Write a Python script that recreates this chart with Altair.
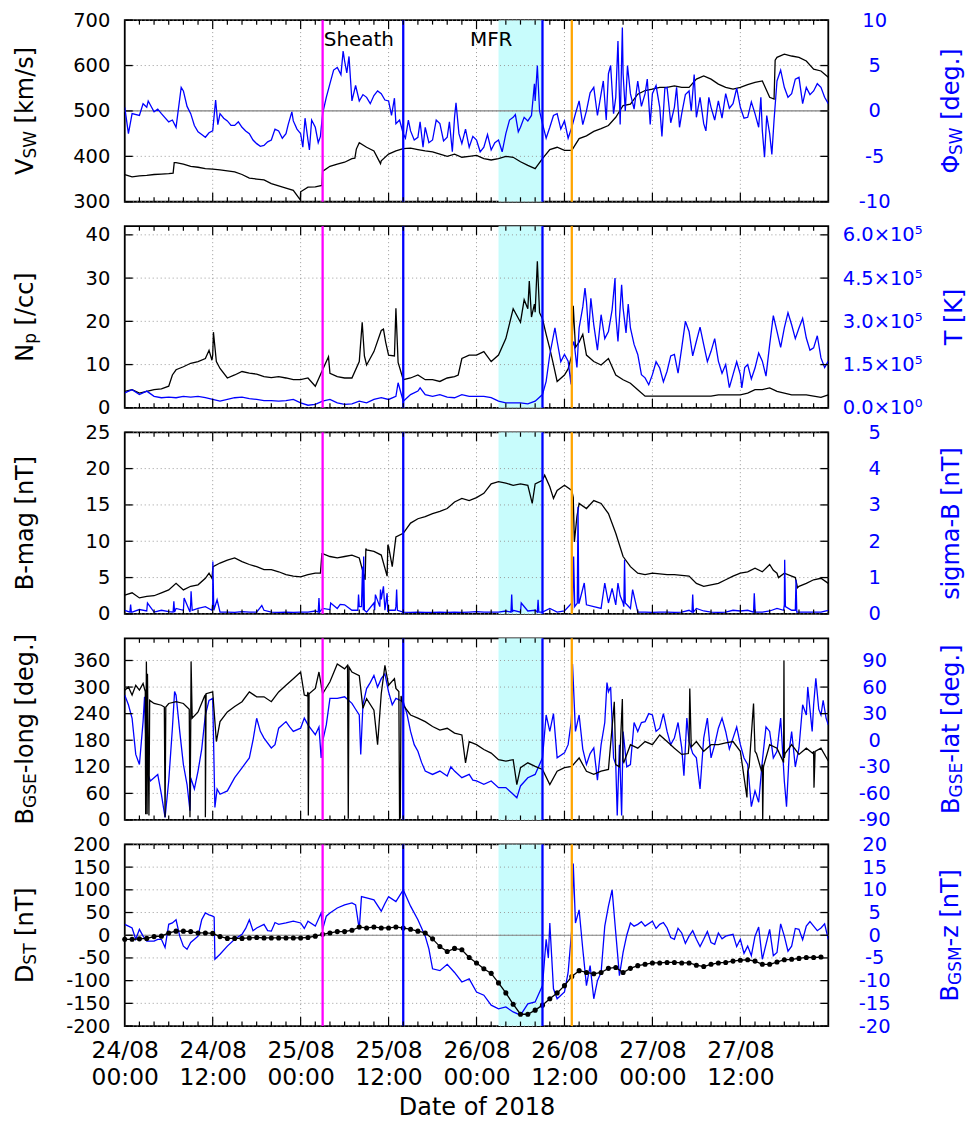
import altair as alt
import pandas as pd

# ---------------- data (hours since 2018-08-24 00:00) ----------------
VSW = [360,355,357,358,360,361,362,386,383,378, 376,373,372,370,368,366,360,352,350,348,
       340,335,330,325,322,332,333,370,378,383, 387,395,430,420,412,390,405,412,417,418,
       415,412,410,405,400,405,398,400,402,395, 392,395,400,398,388,380,373,395,415,420,
       413,413,439,445,455,461,468,486,512,515, 537,545,548,552,552,555,552,552,570,577,
       570,559,552,548,552,558,563,566,530,618, 625,621,618,610,592,588,574]
VSW_X = [(6.6,363),(6.75,386),(23.95,304),(26.9,336),(27.1,368),(31.4,396),(31.6,416),(34.9,384),(88.6,526),(88.75,612)]

PHI = [0.4,-0.3,-0.5,0.4,-0.1,-0.3,-1.2,-1.8,2.2,-0.3, -2.3,-2.9,-2.2,-0.3,-1.1,-1.6,-1.8,-2.5,-3.6,-3.8,
       -3.2,-2.2,-2.5,-1.1,-2.5,-3.2,-1.8,-0.3,3.0,4.8, 5.5,1.1,1.1,1.5,1.7,1.9,1.1,-1.4,-2.5,-2.2,
       -2.9,-1.8,-3.2,-1.4,-2.9,-0.7,-3.6,-4.0,-3.2,-4.0, -4.3,-3.2,-2.5,-0.7,-1.8,-1.1,1.1,-1.4,-1.8,-0.3,
       -1.1,-1.8,1.1,0.0,2.6,1.9,4.1,1.5,4.1,1.9, 3.3,1.9,1.9,0.4,2.6,0.4,-0.3,2.2,-0.7,-1.4,
       0.4,1.1,1.9,0.8,0.4,-0.7,-0.3,-2.2,-2.5,3.3, 2.6,1.9,3.7,2.6,2.2,2.6,0.8]
PHI_X = [(0.5,-2.5),(2.5,0.8),(3.2,1.1),(4.5,0.2),(6.5,-1.0),(7.7,2.6),(8.5,0.5),(9.5,-1.6),(10.5,-2.6),(11.5,-2.4),
         (12.4,1.2),(12.7,-1.5),(13.5,-0.8),(14.5,-1.6),(15.5,-1.2),(16.5,-2.2),(17.5,-3.2),(18.5,-3.9),(19.5,-3.4),
         (20.5,-2.0),(21.5,-3.0),(22.3,-1.5),(22.8,-0.1),(23.5,-2.0),(24.3,-4.0),(24.6,-0.8),(25.2,-4.3),(25.5,-1.0),
         (26.4,-3.5),(26.7,-2.8),(27.5,1.5),(28.5,4.5),(29.5,4.0),(29.8,6.6),(30.3,4.2),(30.6,6.0),(31.5,2.8),(32.5,1.8),
         (33.5,0.8),(34.5,2.2),(35.5,1.2),(36.4,-0.5),(36.8,1.4),(37.5,-1.0),(38.3,-3.0),(38.7,-1.0),(39.5,-3.2),
         (40.3,-1.2),(40.7,-4.0),(41.5,-3.5),(42.5,-1.0),(43.5,-3.3),(44.3,-1.2),(44.7,-4.5),(45.2,0.9),(45.6,-2.5),
         (46.5,-2.0),(47.5,-2.8),(48.5,-4.5),(49.5,-2.6),(50.5,-3.5),(51.5,-4.5),(52.5,-1.0),(53.3,-0.4),(53.7,-2.3),
         (54.5,-0.7),(55.5,-0.5),(55.9,3.0),(56.3,5.0),(56.6,0.0),(57.5,-3.0),(58.5,-0.5),(59.5,-2.0),(60.5,-3.0),
         (61.5,-0.3),(62.5,-1.5),(63.5,2.0),(64.5,-0.5),(65.3,3.3),(65.7,-1.0),(66.3,5.0),(66.7,-0.3),(67.3,7.7),
         (67.6,-1.5),(67.9,9.2),(68.3,0.0),(68.6,5.0),(69.5,0.2),(70.5,0.5),(71.3,3.5),(71.7,-1.5),(72.5,2.8),
         (73.3,-2.8),(73.7,2.5),(74.5,-1.3),(75.3,2.6),(75.7,-1.8),(76.5,1.8),(77.3,0.0),(77.7,4.0),(78.5,1.5),
         (79.3,-2.2),(79.7,1.5),(80.5,-1.0),(81.5,-0.8),(82.5,0.3),(83.5,2.5),(84.5,-0.8),(85.5,1.0),(86.5,-1.8),
         (86.8,1.5),(87.3,-5.1),(87.6,-0.5),(88.3,-4.8),(88.6,-1.0),(89.5,4.5),(90.5,1.5),(91.5,3.5),(92.5,0.8),
         (93.5,1.8),(94.5,3.0),(95.5,1.5)]

NP = [3.8,4.2,3.4,3.8,4.2,4.4,5.0,8.8,9.5,10.3, 10.7,11.4,12.2,9.1,6.9,7.6,8.4,8.0,7.8,7.2,
      7.0,7.2,6.9,6.5,6.5,6.9,5.0,8.8,8.0,7.2, 6.9,6.9,10.7,9.9,13.0,17.9,12.2,23.0,6.5,6.9,
      7.6,6.5,6.5,6.1,6.9,7.2,11.4,12.2,12.2,13.0, 10.7,12.2,16.0,22.9,19.8,22.9,22.1,20.6,13.7,6.1,
      7.6,12.2,15.2,12.2,10.7,9.9,11.4,7.6,6.5,5.7, 4.2,2.7,2.7,2.7,2.7,2.7,2.7,2.7,2.7,2.7,
      2.7,3.0,3.0,3.0,3.0,3.4,4.2,4.2,4.6,3.8, 3.4,3.0,3.0,3.0,2.7,2.4,3.0]
NP_X = [(6.5,7.6),(11.5,13.3),(11.9,11.0),(12.1,17.5),(12.5,10.7),(27.8,11.8),(32.4,19.8),(32.7,12.0),(35.3,18.2),
        (35.6,15.2),(36.8,12.0),(37.3,10.5),(45.5,7.6),(54.5,25.0),(55.2,29.3),(55.5,21.0),(55.9,24.0),(56.3,33.9),
        (56.6,22.0),(57.5,17.0),(58.5,10.0),(60.5,9.0),(61.2,23.6),(61.5,14.0),(62.5,17.0)]

TEMP = [0.52,0.63,0.46,0.58,0.40,0.35,0.37,0.35,0.40,0.37, 0.40,0.35,0.29,0.23,0.29,0.35,0.37,0.32,0.29,0.25,
        0.25,0.23,0.25,0.29,0.17,0.09,0.12,0.23,0.29,0.17, 0.12,0.14,0.23,0.17,0.29,0.35,0.29,0.40,0.23,0.46,
        0.58,0.46,0.40,0.46,0.37,0.35,0.46,0.40,0.40,0.40, 0.35,0.23,0.17,0.17,0.17,0.14,0.23,0.46,1.85,2.31,
        1.85,2.08,2.77,3.69,2.88,3.23,2.65,3.23,3.46,2.77, 1.85,1.04,1.15,1.38,1.27,1.85,2.08,2.65,2.31,2.19,
        1.96,1.62,1.50,1.15,1.15,1.50,1.38,1.62,2.19,2.65, 2.77,2.88,2.77,2.42,2.08,1.73,1.62]
TEMP_X = [(37.3,0.87),(40.3,0.69),(57.5,0.92),(58.7,2.77),(59.5,1.6),(60.5,1.62),(60.9,0.81),(61.3,2.3),(61.7,1.4),
          (62.5,3.5),(62.8,4.15),(63.3,2.6),(63.6,3.8),(64.5,2.0),(65.5,2.4),(66.5,3.4),(66.9,4.5),(67.3,2.3),
          (67.8,4.27),(68.4,2.6),(68.7,3.6),(69.5,2.2),(70.5,1.15),(71.5,0.8),(72.5,1.6),(73.5,0.9),(74.5,1.8),
          (75.5,1.2),(76.5,3.0),(77.5,1.8),(78.5,2.8),(79.5,1.6),(80.5,2.4),(81.5,1.2),(82.5,0.7),(83.5,1.6),
          (84.2,0.69),(84.6,1.4),(85.5,1.0),(86.5,1.9),(87.5,1.1),(88.5,3.2),(89.5,2.1),(90.5,3.3),(91.5,2.4),
          (92.5,3.1),(93.5,2.0),(94.5,2.5),(95.5,1.4)]

BMAG = [2.6,2.9,2.2,2.4,2.5,2.9,3.3,4.2,3.3,3.8, 4.0,4.9,6.1,7.0,7.4,7.7,7.2,6.8,6.5,6.1,
        6.1,5.8,5.4,5.2,5.1,5.4,5.6,8.3,7.9,7.7, 7.9,8.1,7.7,8.8,8.6,8.1,9.3,10.6,11.1,12.5,
        13.1,13.4,13.8,14.1,14.5,15.4,15.9,15.6,16.0,16.6, 17.9,18.2,18.0,17.7,17.9,17.7,17.9,18.4,17.5,17.0,
        17.7,17.0,15.2,14.5,15.6,15.2,13.8,11.1,7.9,6.5, 5.6,5.4,5.6,5.5,5.4,5.4,5.3,5.2,4.2,3.8,
        4.0,4.2,4.7,5.2,5.6,5.8,6.3,5.8,6.8,5.6, 5.6,5.2,3.8,4.2,4.7,4.9,4.2]
BMAG_X = [(11.5,5.6),(11.9,4.9),(12.05,6.5),(26.7,5.6),(26.9,8.3),(32.8,4.7),(32.9,9.0),(35.8,5.2),(35.9,9.5),
          (36.5,6.5),(55.6,15.2),(57.3,19.1),(58.5,15.9),(61.2,16.0),(61.35,9.9),(61.7,13.4),(88.5,6.0),(89.2,5.0),
          (91.5,5.0),(91.8,3.6)]

SIGB = [0.1,0.05,0.12,0.08,0.05,0.1,0.06,0.15,0.1,0.3, 0.15,0.2,0.3,0.05,0.05,0.04,0.06,0.05,0.05,0.1,
        0.05,0.04,0.05,0.04,0.05,0.05,0.08,0.15,0.12,0.15, 0.25,0.1,0.2,0.05,0.3,0.4,0.1,0.2,0.05,0.04,
        0.05,0.04,0.04,0.05,0.04,0.05,0.04,0.05,0.06,0.05, 0.05,0.05,0.08,0.1,0.05,0.08,0.1,0.05,0.15,0.05,
        0.08,0.3,0.3,0.25,0.2,0.15,0.3,0.25,0.3,0.15, 0.05,0.05,0.04,0.05,0.05,0.04,0.05,0.1,0.15,0.08,
        0.05,0.04,0.05,0.1,0.08,0.1,0.15,0.05,0.08,0.15, 0.25,0.1,0.05,0.05,0.05,0.05,0.1]
SIGB_X = [(0.7,0.05),(0.8,0.26),(0.9,0.05),(3.1,0.3),(6.6,0.05),(6.7,0.35),(6.8,0.05),(8.1,0.44),(8.9,0.05),
          (9.05,0.62),(9.2,0.1),(11.9,0.1),(12.02,1.44),(12.15,0.1),(12.6,0.39),(18.7,0.23),(26.4,0.05),(26.5,0.44),
          (26.6,0.05),(28.1,0.3),(29.4,0.26),(31.8,0.1),(31.9,0.53),(32.3,0.2),(32.45,1.3),(32.55,0.1),(32.6,1.58),
          (32.7,0.1),(34.1,0.1),(34.2,0.53),(34.8,0.2),(34.9,0.67),(35.3,0.76),(35.5,0.1),(35.8,0.57),(35.9,0.05),
          (36.9,0.1),(37.1,0.67),(37.2,0.1),(52.7,0.05),(52.8,0.53),(52.9,0.05),(54.1,0.3),(56.3,0.05),(56.4,0.39),
          (56.5,0.05),(61.1,0.1),(61.25,1.58),(61.4,0.2),(61.75,0.3),(61.85,2.95),(61.95,0.3),(62.7,0.85),(65.5,0.85),
          (66.5,0.7),(67.3,0.85),(67.6,0.5),(68.1,0.2),(68.2,1.49),(68.3,0.3),(69.3,0.67),(77.4,0.05),(77.5,0.53),
          (77.6,0.05),(85.8,0.05),(85.9,0.57),(86.0,0.05),(89.9,0.1),(90.05,1.49),(90.15,0.2),(91.5,0.1),(91.6,0.94),
          (91.7,0.05)]

LONG = [293,282,293,282,263,259,263,267,263,207, 244,282,289,222,244,256,267,289,278,278,
        267,289,304,319,334,289,297,285,312,352, 341,334,326,274,248,285,304,297,259,237,
        230,222,211,203,207,196,192,177,170,159, 151,136,133,136,118,129,121,114,80,110,
        118,121,140,110,103,110,114,125,133,170, 162,177,170,192,177,162,148,170,177,155,
        170,170,174,177,155,110,155,125,170,162, 140,170,148,162,155,162,133]
LONG_X = [(0.5,300),(1.5,304),(2.5,308),(2.8,290),(2.85,13),(2.95,358),(3.05,13),(3.1,330),(3.3,10),(3.4,270),
          (5.4,255),(5.5,6),(5.6,255),(8.8,250),(8.9,6),(9.05,358),(9.2,230),(10.9,280),(11.0,6),(11.1,285),
          (12.5,177),(24.5,282),(24.9,280),(25.05,10),(25.15,285),(26.5,334),(30.4,349),(30.5,3),(30.6,345),
          (32.5,252),(34.5,170),(35.5,349),(36.8,319),(37.4,290),(37.5,2),(37.6,5),(37.7,280),(46.5,129),(53.5,80),
          (66.8,267),(67.5,120),(67.9,273),(68.1,130),(76.9,150),(77.1,297),(77.3,165),(84.9,51),(85.2,120),
          (85.8,263),(86.2,150),(86.9,110),(87.05,0),(87.15,120),(89.9,130),(89.95,360),(90.1,150),(93.9,150),
          (94.05,73),(94.2,155)]

LAT = [50.9,24.8,-27.4,-34.8,-42.3,-61,-46,50.9,-27.4,-42.3, -34.8,28.5,47.2,-61,-57.2,-42.3,-31.1,-19.9,24.8,2.4,
       -8.7,13.6,21,9.9,13.6,17.3,6.2,-1.3,47.2,47.2, 49,41.6,28.5,58.3,73.2,69.5,54.6,47.2,43.4,9.9,
       -12.5,-34.8,-38.6,-34.8,-40.4,-34.8,-42.3,-38.6,-46,-49.7, -46,-53.5,-53.5,-61,-51.6,-42.3,-38.6,-19.9,9.9,-19.9,
       -14.3,32.3,28.5,-27.4,-8.7,-5,54.6,-27.4,9.9,-27.4, 9.9,21,28.5,13.6,9.9,2.4,-8.7,-1.3,-19.9,2.4,
       -19.9,13.6,9.9,2.4,-5,-27.4,-57.2,-23.6,9.9,-12.5, -46,9.9,-8.7,28.5,39.7,28.5,17.3]
LAT_X = [(0.5,40),(1.5,-16),(2.5,21),(2.7,49),(3.5,-46),(4.5,-38.6),(5.5,-87),(6.5,13.6),(6.8,55),(7.5,10),(8.5,-50),
         (8.9,-79.6),(9.5,-55),(10.5,-10),(11.5,45),(12.3,-75.8),(12.6,-55),(17.5,0),(18.5,10),(20.5,-5),(22.5,15),
         (24.5,25),(26.5,15),(26.8,-20),(27.5,17.3),(31.5,35),(32.2,-16),(32.5,40),(33.5,65),(34.5,60),(35.5,75),
         (36.5,40),(38.5,30),(39.5,-5),(40.5,-25),(44.5,-30),(47.5,-45),(53.5,-65),(57.5,28.5),(58.5,30),(60.5,-5),
         (60.9,20),(61.1,86),(61.5,10),(62.5,-10),(63.5,-15),(64.5,-45),(65.5,20),(65.8,65),(66.3,60),(66.7,-20),
         (67.2,-85),(67.5,-5),(67.8,-85),(68.5,-30),(69.5,20),(70.5,20),(71.5,30),(72.5,10),(73.5,30),(74.5,-5),
         (75.5,20),(76.3,-40),(76.7,25),(77.5,-15),(78.5,-55),(79.5,25),(80.5,-5),(81.5,25),(82.5,-10),(83.5,15),
         (84.5,-20),(85.5,-75),(86.5,-70),(87.5,15),(88.5,-20),(89.5,25),(90.3,-75),(90.7,-10),(91.5,-30),(92.5,40),
         (93.2,60),(93.8,10),(94.3,70),(94.7,35),(95.3,45),(95.7,25)]

DST = [-9,-9,-8,-7,-3,-2,5,9,9,8, 5,5,4,-3,-7,-7,-7,-6,-5,-6,
       -6,-6,-6,-6,-6,-5,-2,2,5,8, 8,11,18,16,18,16,16,18,16,13,
       9,5,-8,-25,-36,-29,-32,-49,-61,-74, -84,-105,-127,-152,-174,-174,-165,-154,-140,-127,
       -111,-91,-78,-82,-85,-82,-73,-71,-82,-73, -67,-64,-61,-61,-60,-60,-61,-61,-66,-69,
       -64,-61,-60,-57,-55,-54,-57,-64,-64,-59, -54,-53,-51,-49,-49,-48]

BZ = [2.4,1.6,1.3,-1.3,-1.3,-0.9,2.4,3.4,-2.4,-1.6, -0.2,4.9,4.2,-4.2,-2.4,-0.9,0.2,3.4,1.6,2.4,
      0.9,2.4,2.7,3.1,2.7,3.1,2.0,1.3,4.9,6.0, 6.7,7.1,1.3,8.2,7.8,5.3,8.5,7.4,10.0,6.4,
      3.4,-0.2,-7.4,-7.8,-6.4,-8.2,-10.3,-9.6,-12.5,-13.2, -15.4,-16.2,-15.8,-16.9,-17.6,-15.1,-14.7,-11.1,2.7,-14.0,
      -12.5,1.3,5.6,-11.1,-14.0,-8.2,6.4,0.5,-3.8,2.7, 2.4,2.0,3.1,2.4,1.6,-0.9,0.5,-0.2,-0.9,-0.9,
      -1.6,0.5,-0.2,0.2,-0.9,-2.4,-0.2,-5.3,1.3,-3.8, -0.2,-2.4,1.3,2.0,2.0,1.6,-0.9]
BZ_X = [(0.5,2.0),(1.5,-0.9),(2.5,-0.2),(4.5,-0.9),(5.5,-2.7),(6.5,2.7),(7.5,-0.2),(8.5,-3.1),(10.5,3.4),(11.5,4.5),
        (12.2,4.0),(12.3,-5.3),(16.5,1.5),(17.5,1.0),(19.5,1.0),(20.5,2.8),(24.5,1.5),(26.8,4.9),(27.5,4.2),(31.5,6.7),
        (32.3,8.5),(35.5,7.0),(38.5,8.2),(41.5,-3.0),(57.5,-0.9),(57.8,-5.0),(58.5,-11.8),(60.5,-8.2),(61.2,15.8),
        (61.5,2.7),(62.5,-3.1),(63.5,-6.7),(64.5,-10.0),(65.5,2.0),(66.5,10.0),(67.5,-8.9),(68.5,0.0),(69.5,2.0),
        (70.5,3.0),(72.5,1.5),(73.5,2.8),(74.5,-0.5),(75.5,1.5),(76.5,-1.8),(77.5,1.0),(78.5,-2.5),(79.5,0.8),
        (80.5,-2.0),(81.5,-0.8),(83.5,-2.5),(84.5,-4.0),(85.5,-4.5),(86.5,1.8),(87.5,-2.0),(88.5,-4.5),(89.5,2.5),
        (90.5,-3.5),(91.5,1.5),(92.5,-1.0),(93.5,3.0),(94.5,1.0),(95.5,2.5)]

EVENT_HOURS = [27, 38, 57, 61]
EVENT_COLORS = ['#ff00ff', '#0000ff', '#0000ff', '#ffa500']
MFR_SPAN = [51, 57]
NOTE_TEXT = ['Sheath', 'MFR']
NOTE_HOUR = [27.15, 47.1]
MAJOR_HOURS = [12, 24, 36, 48, 60, 72, 84]
MINOR_HOURS = [h for h in range(2, 96, 2) if h % 12]
X_LABEL_HOURS = [0, 12, 24, 36, 48, 60, 72, 84]

# ---------------- style ----------------
W, H = 705, 182
FONT = 'DejaVu Sans'
BLUE = '#0000ff'
CYAN = '#c8fcfc'
GRID = '#9a9a9a'
TICK_FS = 19.5
MAIN_FS, SUB_FS, SUB_SHIFT = 24, 17, 3
LW = 1.3

CW = {' ': .318, '[': .390, ']': .390, '/': .337, '.': .318, '-': .361, 'a': .613, 'b': .635, 'c': .550,
      'd': .635, 'e': .615, 'g': .635, 'i': .278, 'k': .579, 'l': .278, 'm': .974, 'n': .634, 'o': .612,
      'p': .635, 'r': .411, 's': .521, 't': .392, 'z': .525, 'B': .686, 'D': .770, 'E': .632, 'G': .775,
      'K': .656, 'M': .863, 'N': .748, 'S': .635, 'T': .611, 'V': .684, 'W': .989, 'Φ': .78}

XS = alt.Scale(domain=[0, 96], nice=False, zero=False)
X_AXIS = alt.Axis(values=X_LABEL_HOURS, ticks=False, tickSize=0, domain=False, grid=False,
                  labelExpr="[(24 + floor(datum.value / 24)) + '/08', datum.value % 24 == 0 ? '00:00' : '12:00']",
                  labelFontSize=23.4, labelFont=FONT, labelColor='black', labelPadding=14,
                  labelLineHeight=27, labelFlush=False, labelOverlap=False,
                  title='Date of 2018', titleFontSize=24, titleFont=FONT, titleFontWeight='normal',
                  titleColor='black', titlePadding=6)
ONE = pd.DataFrame({'a': [0]})


def xenc(with_axis):
    return alt.X('h:Q', scale=XS, axis=X_AXIS if with_axis else None)


def series(hourly, extras=()):
    t = list(range(len(hourly))) + [e[0] for e in extras]
    v = list(hourly) + [e[1] for e in extras]
    return pd.DataFrame({'h': t, 'v': v}).sort_values('h', kind='stable').reset_index(drop=True)


def child(df, color, domain, ticks, orient, grid=False, zero=None, label_expr="'' + datum.value",
          label_align=None, label_pad=15, points=False, xaxis=False):
    X = xenc(xaxis)
    ysc = alt.Scale(domain=domain, nice=False, zero=False)
    akw = dict(orient=orient, values=ticks, ticks=False, tickSize=0, domain=False, grid=False, title=None,
               labelExpr=label_expr, labelPadding=label_pad, labelFontSize=TICK_FS, labelFont=FONT,
               labelColor=color, labelFlush=False, labelOverlap=False)
    if label_align:
        akw['labelAlign'] = label_align
    Y = alt.Y('v:Q', scale=ysc, axis=alt.Axis(**akw))
    tdf = pd.DataFrame({'v': ticks})
    layers = []
    if grid:
        layers.append(alt.Chart(tdf).mark_rule(color=GRID, strokeDash=[1, 3], strokeWidth=1).encode(
            y=Y, x=alt.value(0), x2=alt.value(W)))
    if zero is not None:
        layers.append(alt.Chart(pd.DataFrame({'v': [zero]})).mark_rule(color='#808080', strokeWidth=1.2).encode(
            y=Y, x=alt.value(0), x2=alt.value(W)))
    layers.append(alt.Chart(df).mark_line(color=color, strokeWidth=LW, clip=True).encode(x=X, y=Y))
    if points:
        layers.append(alt.Chart(df).mark_circle(color=color, size=26, opacity=1).encode(x=X, y=Y))
    x0, x1 = (0, 8) if orient == 'left' else (W - 8, W)
    layers.append(alt.Chart(tdf).mark_rule(color='black', strokeWidth=1.3).encode(
        y=Y, x=alt.value(x0), x2=alt.value(x1)))
    return alt.layer(*layers)


def title_marks(pieces, base_x, color):
    items = []
    for text, sub in pieces:
        fs = SUB_FS if sub else MAIN_FS
        lead = 0.0
        if text.startswith(' '):
            lead = CW[' '] * fs
            text = text.lstrip(' ')
        items.append((text, fs, sub, lead, sum(CW.get(c, .6) for c in text) * fs))
    total = sum(i[3] + i[4] for i in items)
    y = H / 2 + total / 2
    out = []
    for text, fs, sub, lead, w in items:
        y -= lead
        out.append(alt.Chart(ONE).mark_text(text=text, angle=270, align='left', baseline='alphabetic',
                                            fontSize=fs, font=FONT, color=color).encode(
            x=alt.value(base_x + (SUB_SHIFT if sub else 0)), y=alt.value(y)))
        y -= w
    return out


def panel(first, second, ltitle, rtitle, rx, with_axis=False, notes=False):
    X = xenc(with_axis)
    rect = alt.Chart(pd.DataFrame({'h': [MFR_SPAN[0]], 'h2': [MFR_SPAN[1]]})).mark_rect(color=CYAN).encode(
        x=X, x2='h2:Q', y=alt.value(0), y2=alt.value(H))
    vgrid = alt.Chart(pd.DataFrame({'h': MAJOR_HOURS})).mark_rule(
        color=GRID, strokeDash=[1, 3], strokeWidth=1).encode(x=X, y=alt.value(0), y2=alt.value(H))
    ev = alt.Chart(pd.DataFrame({'h': EVENT_HOURS, 'c': EVENT_COLORS})).mark_rule(strokeWidth=2.3).encode(
        x=X, y=alt.value(0), y2=alt.value(H), color=alt.Color('c:N', scale=None))
    layers = [rect, vgrid, first, second, ev]
    for hrs, ln in ((MAJOR_HOURS, 9), (MINOR_HOURS, 4.5)):
        d = pd.DataFrame({'h': hrs})
        layers.append(alt.Chart(d).mark_rule(color='black', strokeWidth=1.2).encode(
            x=X, y=alt.value(0), y2=alt.value(ln)))
        layers.append(alt.Chart(d).mark_rule(color='black', strokeWidth=1.2).encode(
            x=X, y=alt.value(H - ln), y2=alt.value(H)))
    if notes:
        layers.append(alt.Chart(pd.DataFrame({'h': NOTE_HOUR, 't': NOTE_TEXT})).mark_text(
            align='left', baseline='alphabetic', fontSize=20, font=FONT, color='black').encode(
            x=X, y=alt.value(26), text='t:N'))
    layers += title_marks(ltitle, -92, 'black') + title_marks(rtitle, rx, BLUE)
    return alt.layer(*layers).resolve_scale(y='independent').properties(width=W, height=H)


p1 = panel(
    child(series(VSW, VSW_X), 'black', [300, 700], [300, 400, 500, 600, 700], 'left', grid=True, zero=500),
    child(series(PHI, PHI_X), BLUE, [-10, 10], [-10, -5, 0, 5, 10], 'right', label_align='center', label_pad=46),
    [('V', False), ('SW', True), (' [km/s]', False)], [('Φ', False), ('SW', True), (' [deg.]', False)], 836,
    notes=True)

p2 = panel(
    child(series(NP, NP_X), 'black', [0, 42], [0, 10, 20, 30, 40], 'left', grid=True),
    child(series(TEMP, TEMP_X), BLUE, [0, 6.3], [0, 1.5, 3, 4.5, 6], 'right', label_align='left', label_pad=14,
          label_expr="datum.value == 0 ? '0.0×10⁰' : format(datum.value, '.1f') + '×10⁵'"),
    [('N', False), ('p', True), (' [/cc]', False)], [('T [K]', False)], 839)

p3 = panel(
    child(series(BMAG, BMAG_X), 'black', [0, 25], [0, 5, 10, 15, 20, 25], 'left', grid=True),
    child(series(SIGB, SIGB_X), BLUE, [0, 5], [0, 1, 2, 3, 4, 5], 'right', label_align='center', label_pad=46),
    [('B-mag [nT]', False)], [('sigma-B [nT]', False)], 836)

p4 = panel(
    child(series(LAT, LAT_X), BLUE, [-90, 115], [-90, -60, -30, 0, 30, 60, 90], 'right', grid=True,
          label_align='center', label_pad=46),
    child(series(LONG, LONG_X), 'black', [0, 410], [0, 60, 120, 180, 240, 300, 360], 'left'),
    [('B', False), ('GSE', True), ('-long [deg.]', False)], [('B', False), ('GSE', True), ('-lat [deg.]', False)], 836)

p5 = panel(
    child(series(BZ, BZ_X), BLUE, [-20, 20], [-20, -15, -10, -5, 0, 5, 10, 15, 20], 'right', grid=True, zero=0,
          label_align='center', label_pad=46, xaxis=True),
    child(series(DST), 'black', [-200, 200], [-200, -150, -100, -50, 0, 50, 100, 150, 200], 'left', points=True,
          xaxis=True),
    [('D', False), ('ST', True), (' [nT]', False)], [('B', False), ('GSM', True), ('-z [nT]', False)], 835,
    with_axis=True)

chart = alt.vconcat(p1, p2, p3, p4, p5, spacing=24.5, bounds='flush').properties(
    padding={'left': 5, 'top': 0, 'right': 0, 'bottom': 0}
).configure(font=FONT).configure_view(stroke='black', strokeWidth=1.8)

chart.save("out.html", embed_options={"renderer": "svg", "actions": False})
